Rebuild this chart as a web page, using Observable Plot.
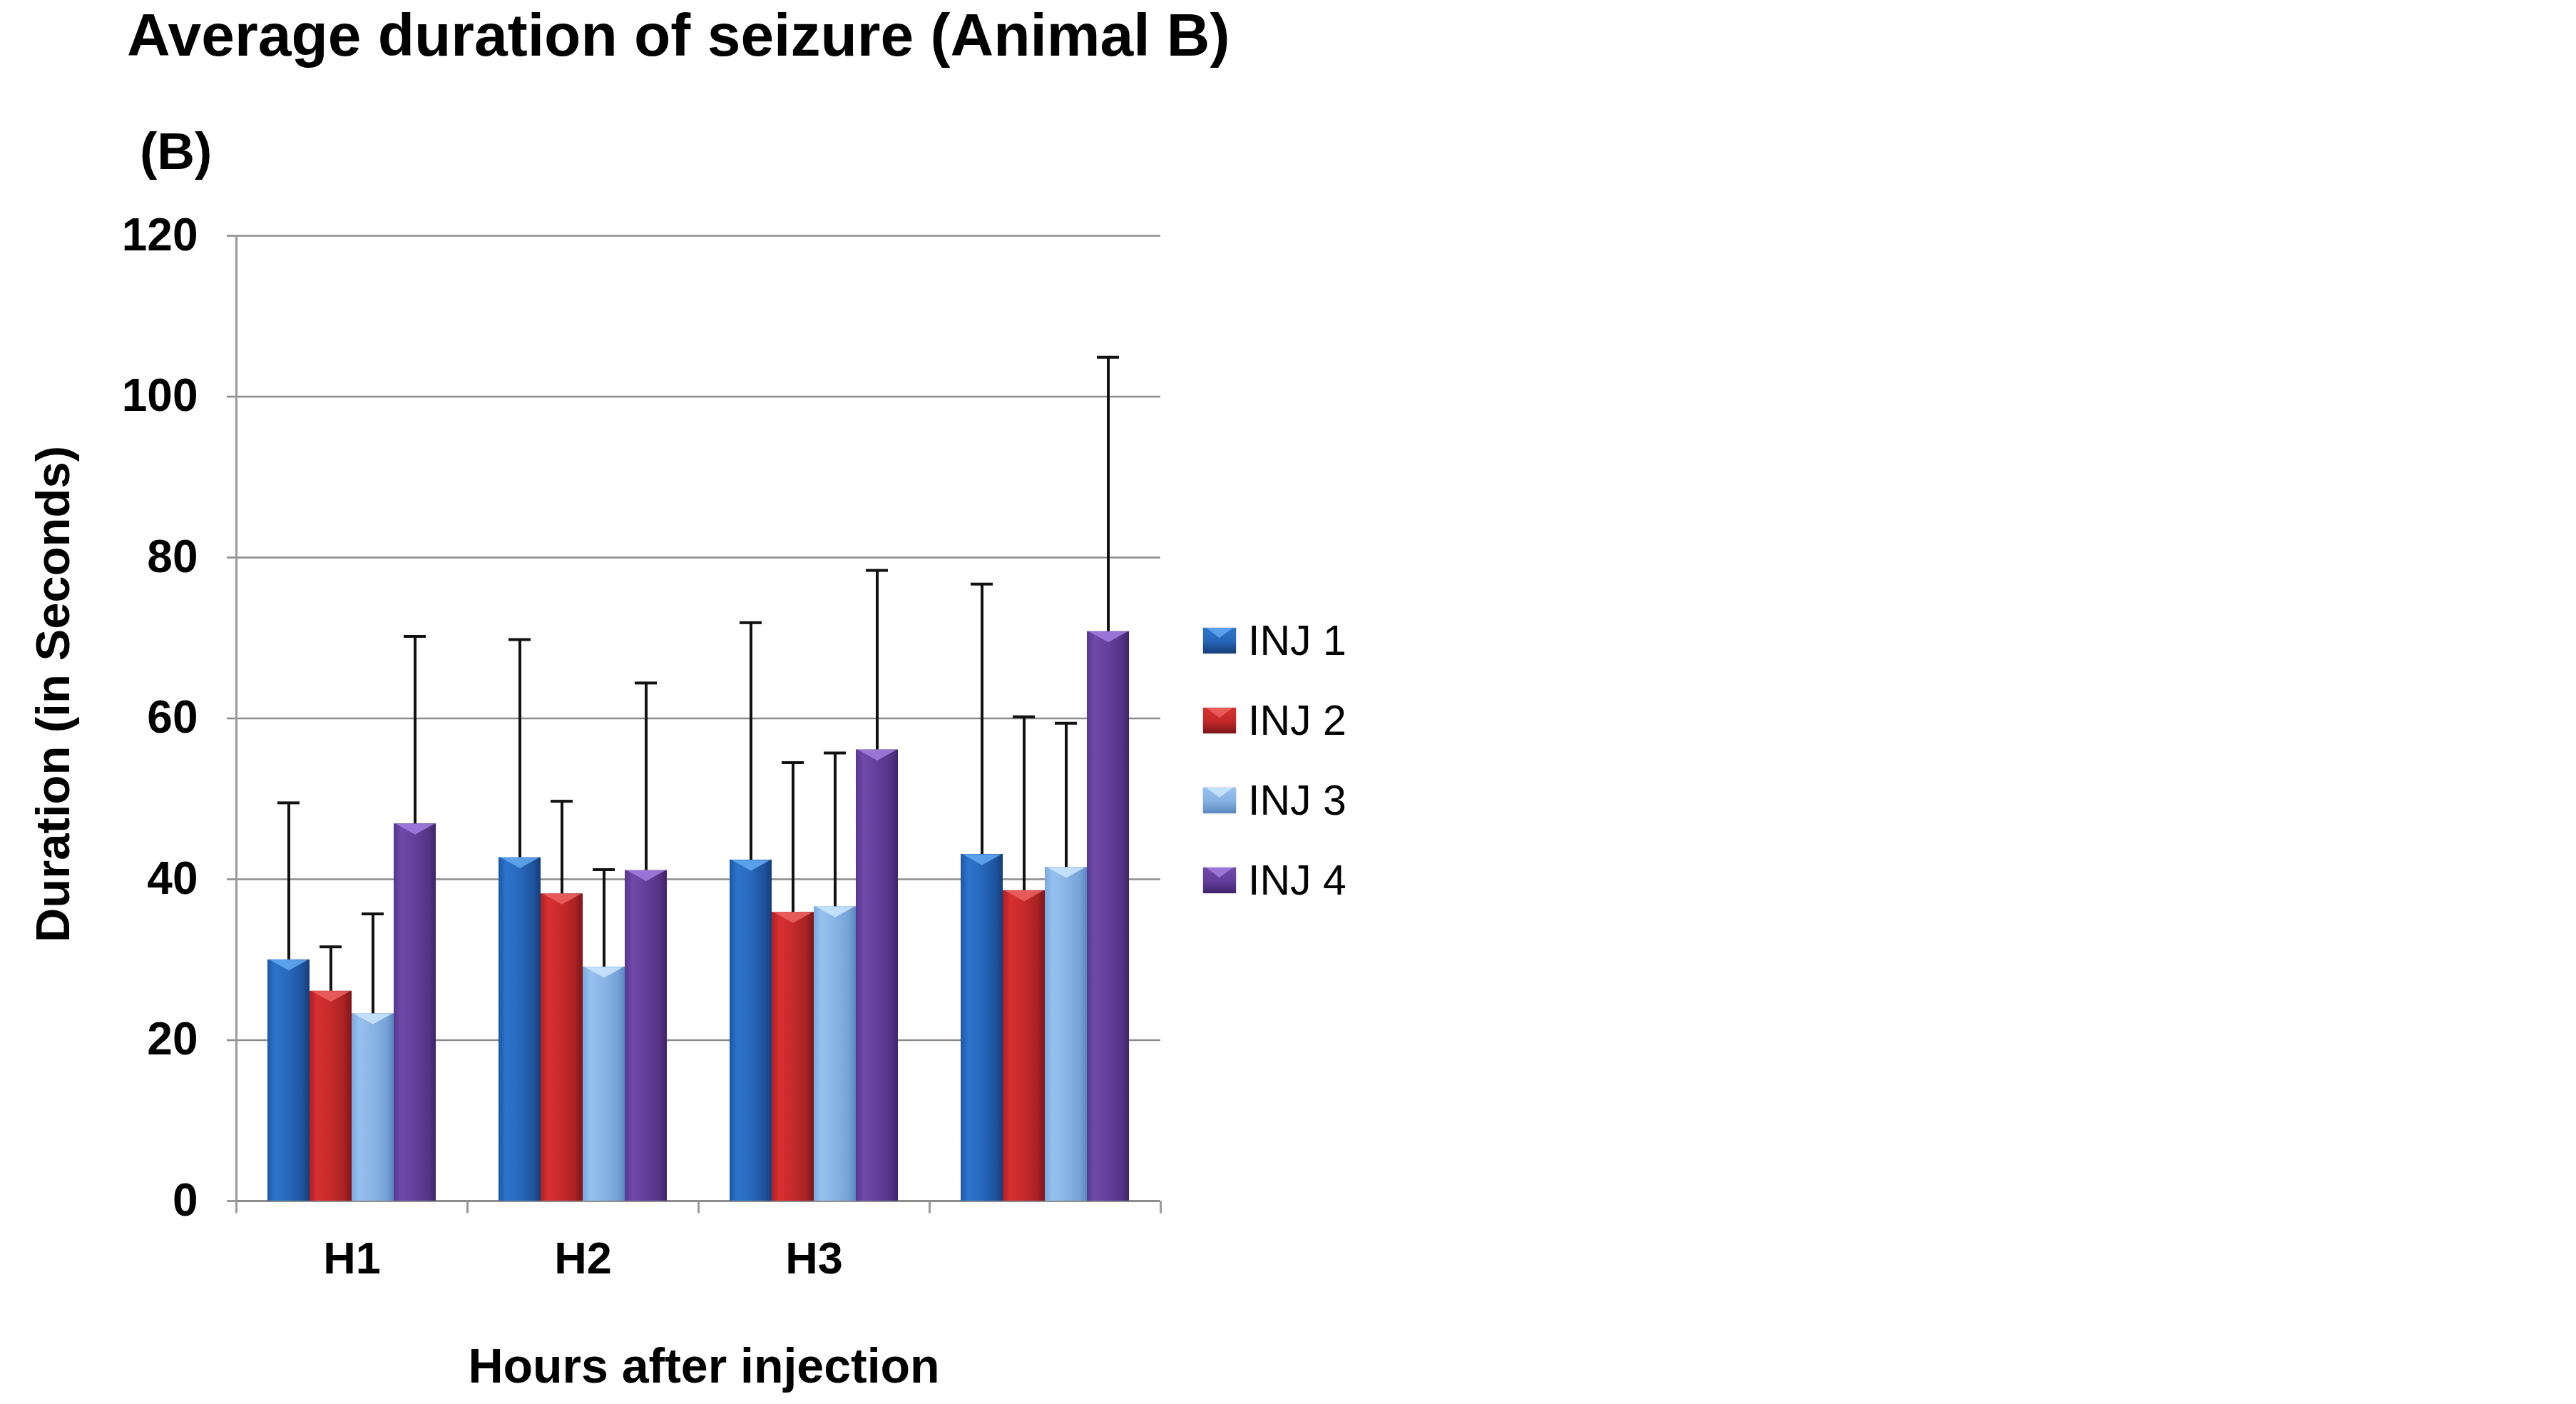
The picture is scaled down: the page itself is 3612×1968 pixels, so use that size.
<!DOCTYPE html>
<html><head><meta charset="utf-8">
<script src="https://cdn.jsdelivr.net/npm/d3@7"></script>
<script src="https://cdn.jsdelivr.net/npm/@observablehq/plot@0.6"></script>
<style>
html,body{margin:0;padding:0;background:#fff;}
#page{position:relative;width:3612px;height:1968px;overflow:hidden;font-family:'Liberation Sans',Arial,sans-serif;color:#000;background:#fff;}
.abs{position:absolute;white-space:nowrap;line-height:1;}
#chart{position:absolute;left:0;top:0;}
</style></head><body><div id="page"><div id="chart"></div></div>
<script>
// ---- data ----
const hours = ["H1", "H2", "H3", "H4"];
const hourLabels = ["H1", "H2", "H3", ""];
const injections = ["INJ 1", "INJ 2", "INJ 3", "INJ 4"];
const inj1 = [30.0, 42.7, 42.4, 43.1];
const inj2 = [26.1, 38.2, 35.9, 38.6];
const inj3 = [23.3, 29.1, 36.6, 41.5];
const inj4 = [46.9, 41.1, 56.1, 70.8];
const sd1 = [19.5, 27.1, 29.5, 33.6];
const sd2 = [5.5, 11.5, 18.6, 21.6];
const sd3 = [12.4, 12.1, 19.1, 17.9];
const sd4 = [23.3, 23.3, 22.3, 34.1];
const yTicks = [0, 20, 40, 60, 80, 100, 120];
const titleText = "Average duration of seizure (Animal B)";
const panelText = "(B)";
const yTitle = "Duration (in Seconds)";
const xTitle = "Hours after injection";

// ---- styles ----
const gradientStops = [
  ["#1c57a6", "#2c74cc", "#2868bc", "#1e549e", "#153d78"],
  ["#b01e22", "#d6302f", "#c62a2a", "#a82224", "#7e1618"],
  ["#79a9e0", "#96c1ef", "#88b4e5", "#76a3d8", "#5a87bd"],
  ["#553791", "#7049a9", "#643f9d", "#553486", "#3e256a"]
];
const notchColors = ["#63a9f2", "#ec6363", "#cde8ff", "#a37ee0"];

const means = [inj1, inj2, inj3, inj4];
const sds = [sd1, sd2, sd3, sd4];
const rows = hours.flatMap((h, i) => injections.map((s, j) => ({hour: h, inj: s, idx: j, value: means[j][i], sd: sds[j][i]})));

const tickSymbol = {draw(ctx) { ctx.moveTo(0, 0); ctx.lineTo(0, 17); }};
const notchSymbol = {draw(ctx) { ctx.moveTo(-27, 0); ctx.lineTo(27, 0); ctx.lineTo(0, 15); ctx.closePath(); }};

const gray = "#8c8c8c";

const plot = Plot.plot({
  width: 1660, height: 1968,
  marginTop: 330, marginBottom: 285, marginLeft: 331, marginRight: 33,
  style: {fontFamily: "'Liberation Sans', Arial, sans-serif", background: "transparent", overflow: "visible", color: "#000"},
  fx: {domain: hours, padding: 0, label: null},
  x: {domain: injections, paddingInner: 0, paddingOuter: 0.73, axis: null},
  y: {domain: [0, 120]},
  color: {type: "identity"},
  marks: [
    Plot.gridY(yTicks, {stroke: gray, strokeOpacity: 1, strokeWidth: 2.6}),
    Plot.axisY(yTicks, {tickSize: 13, tickPadding: 41, fontSize: 64, fontWeight: "bold", stroke: gray, strokeWidth: 2.6, fill: "#000", label: null}),
    Plot.frame({anchor: "left", facetAnchor: "left", stroke: "#9a9a9a", strokeWidth: 3}),
    Plot.ruleY([0], {stroke: gray, strokeWidth: 3}),
    Plot.dot(hours, {fx: d => d, frameAnchor: "bottom-left", symbol: tickSymbol, stroke: "#9a9a9a", strokeWidth: 3, fill: "none"}),
    Plot.dot(hours.slice(-1), {fx: d => d, frameAnchor: "bottom-right", symbol: tickSymbol, stroke: "#9a9a9a", strokeWidth: 3, fill: "none"}),
    Plot.barY(rows, {fx: "hour", x: "inj", y: "value", fill: d => `url(#grad${d.idx})`}),
    Plot.dot(rows, {fx: "hour", x: "inj", y: "value", symbol: notchSymbol, fill: d => notchColors[d.idx], fillOpacity: 0.85, stroke: "none"}),
    Plot.ruleX(rows, {fx: "hour", x: "inj", y1: "value", y2: d => d.value + d.sd, stroke: "#111", strokeWidth: 4}),
    Plot.tickY(rows, {fx: "hour", x: "inj", y: d => d.value + d.sd, stroke: "#111", strokeWidth: 4, insetLeft: 14, insetRight: 14}),
    Plot.axisFx({anchor: "bottom", tickSize: 0, tickPadding: 57, fontSize: 63, fontWeight: "bold", fill: "#000", tickFormat: d => hourLabels[hours.indexOf(d)], label: null})
  ]
});

// gradient definitions
const ns = "http://www.w3.org/2000/svg";
const defs = document.createElementNS(ns, "defs");
gradientStops.forEach((stops, i) => {
  const g = document.createElementNS(ns, "linearGradient");
  g.setAttribute("id", `grad${i}`);
  g.setAttribute("x1", "0"); g.setAttribute("x2", "1"); g.setAttribute("y1", "0"); g.setAttribute("y2", "0");
  const offs = [0, 0.18, 0.5, 0.82, 1];
  stops.forEach((c, k) => {
    const s = document.createElementNS(ns, "stop");
    s.setAttribute("offset", offs[k]);
    s.setAttribute("stop-color", c);
    g.appendChild(s);
  });
  defs.appendChild(g);
});
plot.insertBefore(defs, plot.firstChild);
document.getElementById("chart").appendChild(plot);

// texts
const page = document.getElementById("page");
function addText(txt, css) {
  const d = document.createElement("div");
  d.className = "abs";
  d.textContent = txt;
  Object.assign(d.style, css);
  page.appendChild(d);
  return d;
}
addText(titleText, {left: "178px", top: "7px", fontSize: "84px", fontWeight: "bold"});
addText(panelText, {left: "196px", top: "175px", fontSize: "73px", fontWeight: "bold"});
addText(xTitle, {left: "987px", top: "1880px", fontSize: "68px", fontWeight: "bold", transform: "translateX(-50%)"});
addText(yTitle, {left: "73px", top: "973px", fontSize: "67px", fontWeight: "bold", transform: "translate(-50%,-50%) rotate(-90deg)"});

// legend
injections.forEach((name, i) => {
  const cy = 898 + i * 112;
  const sw = document.createElement("div");
  const stops = gradientStops[i];
  Object.assign(sw.style, {position: "absolute", left: "1687px", top: (cy - 18) + "px", width: "46px", height: "36px",
    background: `linear-gradient(to bottom, ${stops[1]}, ${stops[2]} 50%, ${stops[4]})`, boxShadow: "0 0 2px rgba(0,0,0,0.35)"});
  const notch = document.createElement("div");
  Object.assign(notch.style, {position: "absolute", left: "4px", top: "0px", width: "38px", height: "14px", background: notchColors[i],
    clipPath: "polygon(0 0, 100% 0, 50% 100%)", opacity: 0.85});
  sw.appendChild(notch);
  page.appendChild(sw);
  addText(name, {left: "1750px", top: (cy - 29) + "px", fontSize: "59px"});
});
</script>
</body></html>
